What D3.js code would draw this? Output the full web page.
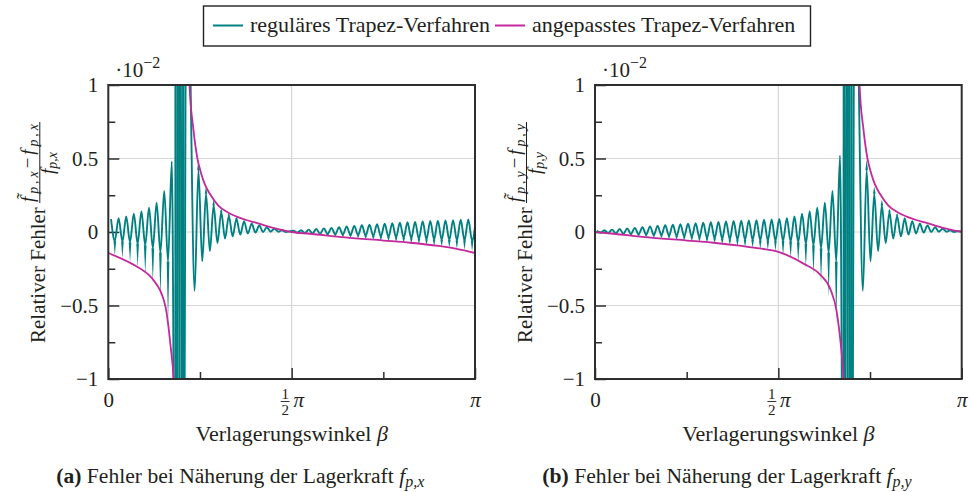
<!DOCTYPE html>
<html lang="de">
<head>
<meta charset="UTF-8">
<title>Fehler Trapez-Verfahren</title>
<script src="https://d3js.org/d3.v7.min.js"></script>
<style>
  body { margin: 0; background: #fff; }
  text { font-family: "Liberation Serif", "Times New Roman", serif; fill: #231f20; }
</style>
</head>
<body>
<script>
// beta in units of pi, error in units of 1e-2
const yTicksMajor = [-1, -0.5, 0, 0.5, 1];
const yTicksMinor = [-0.75, -0.25, 0.25, 0.75];
const yTickLabels = {"-1": "\u22121", "-0.5": "\u22120.5", "0": "0", "0.5": "0.5", "1": "1"};
const xTicksMajor = [0, 0.5, 1];
const xTicksMinor = [0.25, 0.75];
const seriesNames = ["reguläres Trapez-Verfahren", "angepasstes Trapez-Verfahren"];

// regular trapezoid: extremes of each half oscillation, equally spaced in beta
const betaStep = 0.010365;
const betaStartX = 0.0074;
const regularX = [
  0.088, -0.06, 0.094, -0.065, 0.105, -0.07, 0.125, -0.08, 0.14, -0.09,
  0.165, -0.11, 0.20, -0.14, 0.28, -0.2, 0.48, -3, 3, -3,
  3, 0.9, -0.40, 0.42, -0.20, 0.26, -0.13, 0.18, -0.075, 0.135,
  -0.045, 0.11, -0.03, 0.09, -0.018, 0.072, -0.01, 0.056, -0.004, 0.044,
  0.0, 0.032, 0.002, 0.022, 0.002, 0.012, 0.0, 0.005, 0.008, -0.005,
  0.012, -0.008, 0.016, -0.01, 0.02, -0.012, 0.024, -0.014, 0.028, -0.016,
  0.033, -0.018, 0.038, -0.02, 0.042, -0.022, 0.046, -0.025, 0.05, -0.028,
  0.053, -0.031, 0.056, -0.034, 0.06, -0.037, 0.063, -0.04, 0.066, -0.043,
  0.069, -0.046, 0.072, -0.049, 0.075, -0.051, 0.077, -0.053, 0.079, -0.055,
  0.081, -0.057, 0.083, -0.058, 0.085, -0.06, 0.087
];
// narrow spikes of the regular curve (reaching the adjusted curve, or off the chart at the pole)
const spikesX = [
  null, -0.16, null, -0.18, null, -0.205, null, -0.24, null, -0.285,
  null, -0.345, null, -0.44, null, -0.62, null, 40, -40, 40,
  null, null, null, 0.49, null, 0.31, null, 0.22, null, 0.16,
  null, 0.128, null, 0.10, null, 0.08, null, 0.062, null, 0.048,
  null, 0.036, null, 0.025, null, 0.013, null, null, null, -0.008,
  null, -0.012, null, -0.016, null, -0.02, null, -0.025, null, -0.03,
  null, -0.034, null, -0.038, null, -0.042, null, -0.047, null, -0.052,
  null, -0.057, null, -0.062, null, -0.067, null, -0.072, null, -0.077,
  null, -0.083, null, -0.089, null, -0.095, null, -0.10, null, -0.107,
  null, -0.114, null, -0.121, null, -0.13, null
];

const betaStartY = 0.0049;
const regularY = [
  0.008, -0.005, 0.012, -0.008, 0.016, -0.01, 0.02, -0.012, 0.024, -0.014,
  0.028, -0.016, 0.033, -0.018, 0.038, -0.02, 0.042, -0.022, 0.046, -0.025,
  0.05, -0.028, 0.053, -0.031, 0.056, -0.034, 0.06, -0.037, 0.063, -0.04,
  0.066, -0.043, 0.069, -0.046, 0.072, -0.049, 0.075, -0.051, 0.077, -0.053,
  0.079, -0.055, 0.081, -0.057, 0.083, -0.058, 0.085, -0.06, 0.088, -0.06,
  0.094, -0.065, 0.105, -0.07, 0.125, -0.08, 0.14, -0.09, 0.165, -0.11,
  0.20, -0.14, 0.28, -0.2, 0.52, -3, 3, -3, 3, 0.9,
  -0.40, 0.42, -0.20, 0.26, -0.13, 0.18, -0.075, 0.135, -0.045, 0.11,
  -0.03, 0.09, -0.018, 0.072, -0.01, 0.056, -0.004, 0.044, 0.0, 0.032,
  0.002, 0.022, 0.002, 0.012, 0.0, 0.005, 0.004
];
const spikesY = [
  null, -0.008, null, -0.012, null, -0.016, null, -0.02, null, -0.025,
  null, -0.03, null, -0.034, null, -0.038, null, -0.042, null, -0.047,
  null, -0.052, null, -0.057, null, -0.062, null, -0.067, null, -0.072,
  null, -0.077, null, -0.083, null, -0.089, null, -0.095, null, -0.10,
  null, -0.107, null, -0.114, null, -0.121, null, -0.13, null, -0.16,
  null, -0.18, null, -0.205, null, -0.24, null, -0.285, null, -0.345,
  null, -0.44, null, -0.62, null, 40, -40, 40, null, null,
  null, 0.49, null, 0.31, null, 0.22, null, 0.16, null, 0.128,
  null, 0.10, null, 0.08, null, 0.062, null, 0.048, null, 0.036,
  null, 0.025, null, 0.013, null, null, null
];

// adjusted trapezoid: [beta, error], null separates the two branches at the pole
const adjustedX = [
  [0, -0.143], [0.0686, -0.222], [0.1, -0.27], [0.114, -0.30], [0.13, -0.35],
  [0.142, -0.40], [0.159, -0.55], [0.17, -0.78], [0.178, -1.0], [0.184, -1.4],
  null,
  [0.217, 1.4], [0.2215, 1.0], [0.232, 0.70], [0.243, 0.50], [0.253, 0.40],
  [0.264, 0.32], [0.277, 0.26], [0.30, 0.18], [0.325, 0.135], [0.35, 0.105],
  [0.378, 0.08], [0.40, 0.065], [0.43, 0.042], [0.466, 0.018], [0.5, 0.0],
  [0.55, -0.012], [0.646, -0.037], [0.75, -0.058], [0.823, -0.073], [0.9, -0.095],
  [0.95, -0.115], [1.0, -0.143]
];
const adjustedY = [
  [0, 0.0], [0.05, -0.012], [0.146, -0.037], [0.25, -0.058], [0.323, -0.073],
  [0.4, -0.095], [0.45, -0.112], [0.5, -0.135], [0.5686, -0.215], [0.614, -0.29],
  [0.642, -0.39], [0.659, -0.54], [0.67, -0.76], [0.678, -1.0], [0.684, -1.4],
  null,
  [0.717, 1.4], [0.7215, 1.0], [0.732, 0.70], [0.743, 0.50], [0.753, 0.40],
  [0.764, 0.32], [0.777, 0.26], [0.8, 0.18], [0.825, 0.135], [0.85, 0.105],
  [0.878, 0.08], [0.9, 0.065], [0.93, 0.042], [0.966, 0.018], [1.0, 0.0]
];

const teal = "#008080";
const magenta = "#c4299c";
const frameColor = "#2e2e2e";
const gridColor = "#d6d6d6";

const svg = d3.select("body").append("svg")
  .attr("width", 970)
  .attr("height", 492);

// legend
const legend = svg.append("g");
legend.append("rect")
  .attr("x", 203.5).attr("y", 6).attr("width", 607).attr("height", 40)
  .attr("fill", "#fff").attr("stroke", "#222").attr("stroke-width", 1.4);
const legendItems = [
  {name: seriesNames[0], color: teal, x: 213},
  {name: seriesNames[1], color: magenta, x: 495}
];
legendItems.forEach(d => {
  legend.append("line")
    .attr("x1", d.x).attr("x2", d.x + 30).attr("y1", 25.5).attr("y2", 25.5)
    .attr("stroke", d.color).attr("stroke-width", 2);
  legend.append("text")
    .attr("x", d.x + 37).attr("y", 32)
    .attr("font-size", 22)
    .text(d.name);
});

function drawPanel(cfg) {
  const x = d3.scaleLinear().domain([0, 1]).range([cfg.left, cfg.left + 366.7]);
  const y = d3.scaleLinear().domain([-1, 1]).range([379, 85]);
  const g = svg.append("g");

  svg.append("clipPath").attr("id", "clip-" + cfg.id)
    .append("rect")
    .attr("x", x(0)).attr("y", y(1))
    .attr("width", x(1) - x(0)).attr("height", y(-1) - y(1));

  // grid
  g.selectAll(".gy").data([-0.5, 0, 0.5]).join("line")
    .attr("x1", x(0)).attr("x2", x(1))
    .attr("y1", d => y(d)).attr("y2", d => y(d))
    .attr("stroke", gridColor).attr("stroke-width", 1.2);
  g.append("line")
    .attr("x1", x(0.5)).attr("x2", x(0.5)).attr("y1", y(-1)).attr("y2", y(1))
    .attr("stroke", gridColor).attr("stroke-width", 1.2);

  // axes with ticks pointing inwards
  const yMajor = g.append("g").attr("transform", `translate(${x(0)},0)`)
    .call(d3.axisLeft(y).tickValues(yTicksMajor).tickSize(-11).tickPadding(10)
      .tickFormat(d => yTickLabels[String(d)]));
  const yMinor = g.append("g").attr("transform", `translate(${x(0)},0)`)
    .call(d3.axisLeft(y).tickValues(yTicksMinor).tickSize(-7).tickFormat(""));
  const xMajor = g.append("g").attr("transform", `translate(0,${y(-1)})`)
    .call(d3.axisBottom(x).tickValues(xTicksMajor).tickSize(-11).tickFormat(""));
  const xMinor = g.append("g").attr("transform", `translate(0,${y(-1)})`)
    .call(d3.axisBottom(x).tickValues(xTicksMinor).tickSize(-7).tickFormat(""));
  [yMajor, yMinor, xMajor, xMinor].forEach(a => {
    a.select(".domain").remove();
    a.selectAll("line").attr("stroke", frameColor).attr("stroke-width", 1.5);
    a.attr("font-family", null).attr("font-size", null);
  });
  yMajor.selectAll("text").attr("font-size", 21).attr("fill", "#231f20").attr("dy", "0.33em");

  // x tick labels (0, 1/2 pi, pi)
  xMajor.selectAll(".tick").each(function (d) {
    const t = d3.select(this);
    if (d === 0) {
      t.append("text").attr("y", 28).attr("text-anchor", "middle").attr("font-size", 21).text("0");
    } else if (d === 1) {
      t.append("text").attr("y", 28).attr("text-anchor", "middle").attr("font-size", 21)
        .attr("font-style", "italic").text("\u03c0");
    } else {
      t.append("text").attr("x", -7).attr("y", 20).attr("text-anchor", "middle").attr("font-size", 15).text("1");
      t.append("line").attr("x1", -11.5).attr("x2", -2.5).attr("y1", 22.5).attr("y2", 22.5)
        .attr("stroke", "#231f20").attr("stroke-width", 0.9);
      t.append("text").attr("x", -7).attr("y", 36).attr("text-anchor", "middle").attr("font-size", 15).text("2");
      t.append("text").attr("x", 6.5).attr("y", 28).attr("text-anchor", "middle").attr("font-size", 21)
        .attr("font-style", "italic").text("\u03c0");
    }
  });

  // data
  const plot = g.append("g").attr("clip-path", `url(#clip-${cfg.id})`);
  const pts = cfg.regular.map((v, k) => [cfg.betaStart + k * betaStep, v]);
  plot.append("path")
    .datum(pts)
    .attr("fill", "none")
    .attr("stroke", teal)
    .attr("stroke-width", 1.9)
    .attr("d", d3.line().x(d => x(d[0])).y(d => y(d[1])).curve(d3.curveMonotoneX));

  const spikes = cfg.spikes
    .map((t, k) => t === null ? null : {b: cfg.betaStart + k * betaStep, base: cfg.regular[k], tip: t})
    .filter(d => d);
  plot.selectAll(".spike").data(spikes).join("path")
    .attr("class", "spike")
    .attr("fill", teal)
    .attr("d", d => `M${x(d.b) - 1.3},${y(d.base)}L${x(d.b)},${y(d.tip)}L${x(d.b) + 1.3},${y(d.base)}Z`);

  plot.append("path")
    .datum(cfg.adjusted)
    .attr("fill", "none")
    .attr("stroke", magenta)
    .attr("stroke-width", 1.8)
    .attr("d", d3.line().defined(d => d !== null).x(d => x(d[0])).y(d => y(d[1])).curve(d3.curveMonotoneX));

  // frame
  g.append("rect")
    .attr("x", x(0)).attr("y", y(1))
    .attr("width", x(1) - x(0)).attr("height", y(-1) - y(1))
    .attr("fill", "none").attr("stroke", frameColor).attr("stroke-width", 2);

  // scale factor
  const sf = g.append("text").attr("x", x(0) + 7).attr("y", 77).attr("font-size", 21);
  sf.append("tspan").text("\u00b710");
  sf.append("tspan").attr("dy", -9).attr("font-size", 16).text("\u22122");

  // x label
  g.append("text")
    .attr("x", x(0.5)).attr("y", 441)
    .attr("text-anchor", "middle").attr("font-size", 22)
    .call(t => {
      t.append("tspan").text("Verlagerungswinkel ");
      t.append("tspan").attr("font-style", "italic").text("\u03b2");
    });

  // y label, rotated
  const yl = g.append("g").attr("transform", `translate(${x(0) - 63.5},343) rotate(-90)`);
  yl.append("text").attr("x", 0).attr("y", 0).attr("font-size", 21).text("Relativer Fehler");
  const num = yl.append("text").attr("x", 141).attr("y", -10.5).attr("font-size", 19)
    .attr("textLength", 78).attr("lengthAdjust", "spacing");
  num.append("tspan").attr("font-style", "italic").text("f\u0303");
  num.append("tspan").attr("font-style", "italic").attr("font-size", 14).attr("dy", 3.5).text(cfg.sub);
  num.append("tspan").attr("dy", -3.5).text("\u2212");
  num.append("tspan").attr("font-style", "italic").text("f");
  num.append("tspan").attr("font-style", "italic").attr("font-size", 14).attr("dy", 3.5).text(cfg.sub);
  yl.append("line").attr("x1", 140).attr("x2", 221).attr("y1", -5).attr("y2", -5)
    .attr("stroke", "#231f20").attr("stroke-width", 1);
  const den = yl.append("text").attr("x", 180).attr("y", 9).attr("text-anchor", "middle").attr("font-size", 19);
  den.append("tspan").attr("font-style", "italic").text("f");
  den.append("tspan").attr("font-style", "italic").attr("font-size", 14).attr("dy", 3.5).text(cfg.sub);

  // caption
  const cap = g.append("text").attr("x", x(0) + 132).attr("y", 483)
    .attr("text-anchor", "middle").attr("font-size", 21.6);
  cap.append("tspan").attr("font-weight", "bold").text(cfg.tag);
  cap.append("tspan").text(" Fehler bei Näherung der Lagerkraft ");
  cap.append("tspan").attr("font-style", "italic").text("f");
  cap.append("tspan").attr("font-style", "italic").attr("font-size", 16).attr("dy", 4).text(cfg.sub);
}

drawPanel({id: "a", left: 108.3, betaStart: betaStartX, regular: regularX, spikes: spikesX, adjusted: adjustedX, sub: "p,x", tag: "(a)"});
drawPanel({id: "b", left: 595, betaStart: betaStartY, regular: regularY, spikes: spikesY, adjusted: adjustedY, sub: "p,y", tag: "(b)"});
</script>
</body>
</html>
